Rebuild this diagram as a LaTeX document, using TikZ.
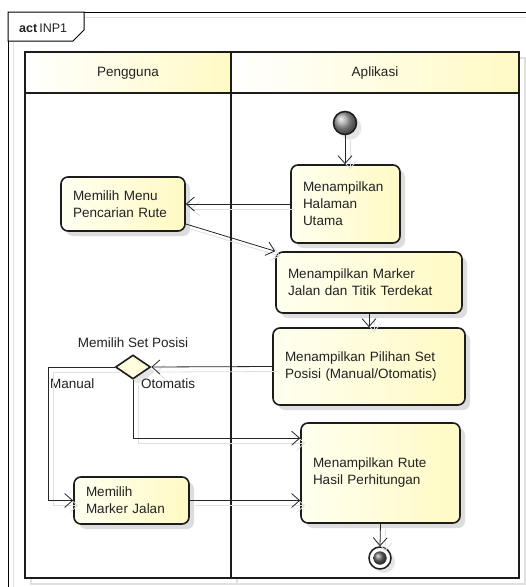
\documentclass[tikz,border=0pt]{standalone}
\usepackage{fontspec}
\setmainfont{Liberation Sans}
\usetikzlibrary{arrows.meta,shapes.geometric,calc,shadows}
\definecolor{boxL}{RGB}{255,255,240}
\definecolor{boxR}{RGB}{255,250,196}
\definecolor{edge}{RGB}{28,28,28}
\definecolor{ghost}{RGB}{224,224,224}
\definecolor{ink}{RGB}{34,34,34}

\begin{document}
\begin{tikzpicture}[x=1pt,y=-1pt,
  font=\fontsize{13.5}{17}\selectfont, text=ink,
  lane/.style={draw=edge, line width=1.8pt},
  laneghost/.style={draw=ghost, line width=1.4pt},
  act/.style={draw=edge, line width=1.6pt, rounded corners=7pt,
    left color=boxL, right color=boxR, inner xsep=12pt, inner ysep=0pt,
    align=left,
    drop shadow={shadow xshift=5pt, shadow yshift=-5pt, fill=black!22, opacity=0.6}},
  flow/.style={draw=black!85, line width=0.8pt,
    -{Straight Barb[length=8pt,width=14pt,line width=0.8pt]},
    preaction={draw=ghost, line width=0.8pt, transform canvas={shift={(5pt,-5pt)}}}},
  lbl/.style={inner sep=0pt}
]
\useasboundingbox (0,0) rectangle (526,587);
\fill[white] (0,0) rectangle (526,587);

% diagram frame with its shadow and name tab
\draw[ghost, line width=1pt] (13,17) rectangle (540,600);
\draw[black, line width=1pt] (8,12) rectangle (535,595);
\draw[black, line width=1pt, fill=white] (8,12) -- (84,12) -- (84,30) -- (73,41) -- (8,41) -- cycle;
\node[anchor=west, lbl, font=\fontsize{12.5}{15}\selectfont] (actlbl) at (19,28) {\textbf{act}\,INP1};

% swimlanes
\draw[laneghost] (31,58) rectangle (525,584);
\draw[laneghost] (237,58) -- (237,584);
\fill[white] (25,52) rectangle (519,578);
\shade[left color=white, right color=boxR] (25,52) rectangle (231,93);
\shade[left color=white, right color=boxR] (231,52) rectangle (519,93);
\draw[lane] (25,52) rectangle (519,578);
\draw[lane] (25,93) -- (519,93);
\draw[lane] (231,52) -- (231,578);
\node[lbl] (hUser) at (128,73) {Pengguna};
\node[lbl] (hApp) at (375,73) {Aplikasi};

% actions
\node[act, minimum width=109pt, minimum height=78pt, text width=85pt] (halaman) at (345.5,204) {Menampilkan\\Halaman\\Utama};
\node[act, minimum width=124pt, minimum height=54pt, text width=100pt] (menu) at (123,204) {Memilih Menu\\Pencarian Rute};
\node[act, minimum width=186pt, minimum height=61pt, text width=162pt] (marker) at (369,282.5) {Menampilkan Marker\\Jalan dan Titik Terdekat};
\node[act, minimum width=192pt, minimum height=77pt, text width=168pt] (pilihan) at (369,366.5) {Menampilkan Pilihan Set\\Posisi (Manual/Otomatis)};
\node[act, minimum width=159pt, minimum height=100pt, text width=135pt] (rute) at (380.5,473) {Menampilkan Rute\\Hasil Perhitungan};
\node[act, minimum width=115pt, minimum height=47pt, text width=91pt] (jalan) at (131.5,500.5) {Memilih\\Marker Jalan};

% initial, decision and final nodes
\node[circle, draw=edge, line width=1.5pt, minimum size=23pt, inner sep=0pt,
  ball color=gray!75, drop shadow={shadow xshift=5pt, shadow yshift=-5pt, fill=black!20, opacity=0.5}] (start) at (345,123) {};
\node[diamond, draw=edge, line width=1.6pt, fill=boxL!60!boxR, minimum width=35pt, minimum height=24pt, inner sep=0pt,
  drop shadow={shadow xshift=5pt, shadow yshift=-5pt, fill=black!20, opacity=0.5}] (dec) at (133,367) {};
\node[circle, draw=edge, line width=1.5pt, fill=white, minimum size=22pt, inner sep=0pt,
  drop shadow={shadow xshift=4pt, shadow yshift=-4pt, fill=black!20, opacity=0.5}] (end) at (380,558) {};
\fill[ball color=gray!80!black] (end.center) circle (6.5);

% guard and decision labels
\node[lbl] (setlbl) at (133,343) {Memilih Set Posisi};
\node[lbl, anchor=west] (manlbl) at (50,384) {Manual};
\node[lbl, anchor=west] (otolbl) at (141,384) {Otomatis};

% flows
\coordinate (mTurn) at (48,367);
\draw[flow] (start) -- (start |- halaman.north);
\draw[flow] (halaman.west) -- (menu.east);
\draw[flow] ($(menu.east)+(0,20)$) -- (marker.north west);
\draw[flow] (marker.south) -- (pilihan.north);
\draw[flow] (pilihan.west) -- (dec.east);
\draw[flow] (dec.west) -- (mTurn) |- (jalan.west);
\draw[flow] (dec.south) |- ($(rute.north west)+(0,16)$);
\draw[flow] (jalan.east) -- (jalan.east -| rute.west);
\draw[flow] (rute.south) -- (end.north);
\end{tikzpicture}
\end{document}
